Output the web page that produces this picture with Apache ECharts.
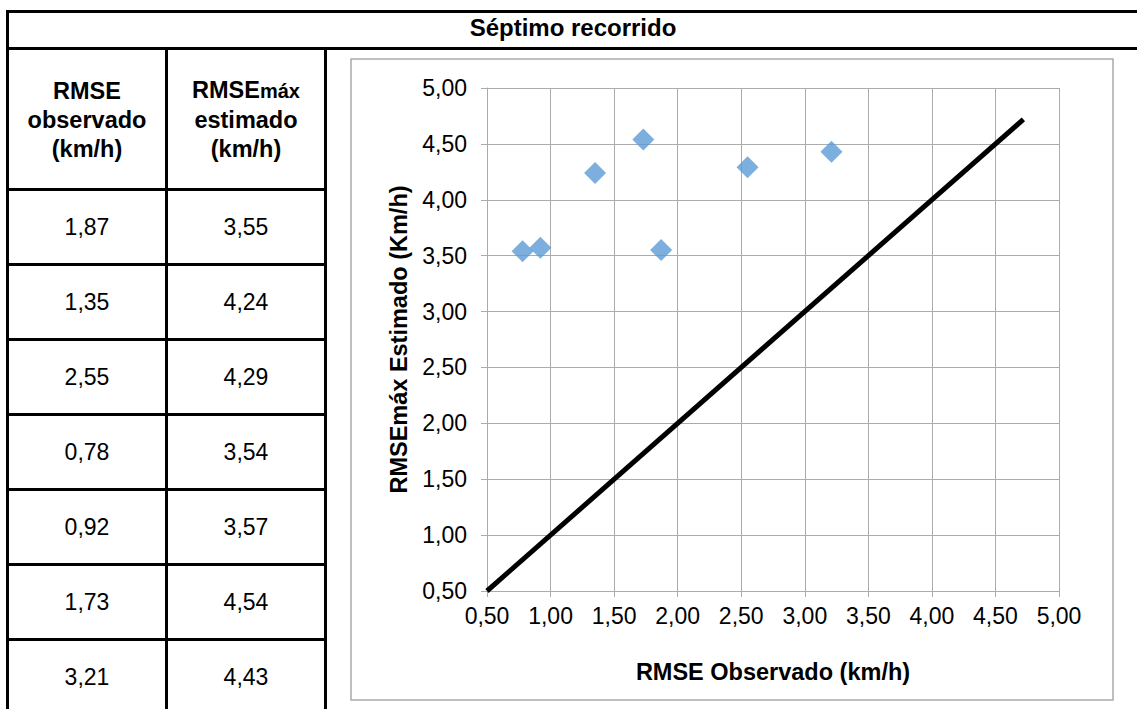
<!DOCTYPE html>
<html lang="es">
<head>
<meta charset="utf-8">
<title>Séptimo recorrido</title>
<script src="https://cdn.jsdelivr.net/npm/echarts@6/dist/echarts.min.js"></script>
<style>
  html, body { margin: 0; padding: 0; background: #fff; overflow: hidden; }
  #page { position: relative; width: 1137px; height: 709px; overflow: hidden; font-family: 'Liberation Sans', Arial, sans-serif; color: #000; }
  #chart { position: absolute; left: 0; top: 0; width: 1137px; height: 709px; }
  #tabla { position: absolute; left: 0; top: 0; width: 1137px; height: 709px; pointer-events: none; }
  .rule { position: absolute; background: #000; }
  .cell { position: absolute; display: flex; align-items: center; justify-content: center; text-align: center; white-space: nowrap; }
  .titulo { font-weight: bold; font-size: 24px; }
  .cab { font-weight: bold; font-size: 23.5px; line-height: 29px; }
  .cab small { font-size: 20px; font-weight: bold; }
  .dato { font-size: 23px; }
</style>
</head>
<body>
<div id="page">
  <div id="chart"></div>
  <div id="tabla"></div>
</div>
<script>
// Measured values for each run of the seventh route (km/h)
const titulo = 'Séptimo recorrido';
const rmseObservado = [1.87, 1.35, 2.55, 0.78, 0.92, 1.73, 3.21];
const rmseMaxEstimado = [3.55, 4.24, 4.29, 3.54, 3.57, 4.54, 4.43];

// Reference line y = x
const lineaIdentidad = [0.5, 4.72];

// Axis tick settings
const ejeMin = 0.5;
const ejeMax = 5;
const ejeIntervalo = 0.5;

const nombreEjeX = 'RMSE Observado (km/h)';
const nombreEjeY = 'RMSEmáx Estimado (Km/h)';

const fmt = v => v.toFixed(2).replace('.', ',');

// ---------- table on the left ----------
const tabla = document.getElementById('tabla');
function rule(x, y, w, h) {
  const d = document.createElement('div');
  d.className = 'rule';
  d.style.left = x + 'px'; d.style.top = y + 'px';
  d.style.width = w + 'px'; d.style.height = h + 'px';
  tabla.appendChild(d);
}
function cell(cls, x, y, w, h, html) {
  const d = document.createElement('div');
  d.className = 'cell ' + cls;
  d.style.left = x + 'px'; d.style.top = y + 'px';
  d.style.width = w + 'px'; d.style.height = h + 'px';
  d.innerHTML = '<div>' + html + '</div>';
  tabla.appendChild(d);
}

const col1 = [9, 165], col2 = [168, 324];
const filaAlto = 75, filaInicio = 191;

rule(6, 10, 1131, 3);           // top edge
rule(6, 47, 1131, 3);           // under the title
rule(6, 10, 3, 699);            // left edge
rule(165, 47, 3, 662);          // between value columns
rule(324, 47, 3, 662);          // before the chart
rule(6, 188, 321, 3);           // under the headers
rmseObservado.forEach((_, i) => rule(6, 263 + i * filaAlto, 321, 3));

cell('titulo', 9, 11, 1128, 33, titulo);
cell('cab', col1[0], 52, col1[1] - col1[0], 136, 'RMSE<br>observado<br>(km/h)');
cell('cab', col2[0], 52, col2[1] - col2[0], 136, 'RMSE<small>máx</small><br>estimado<br>(km/h)');
rmseObservado.forEach((v, i) => {
  const y = filaInicio + i * filaAlto;
  cell('dato', col1[0], y, col1[1] - col1[0], 72, fmt(v));
  cell('dato', col2[0], y, col2[1] - col2[0], 72, fmt(rmseMaxEstimado[i]));
});

// ---------- scatter chart ----------
const puntos = rmseObservado.map((x, i) => [x, rmseMaxEstimado[i]]);
const identidad = lineaIdentidad.map(v => [v, v]);

const gris = '#ababab';
const fuente = "'Liberation Sans', Arial, sans-serif";

const ejeBase = {
  type: 'value',
  min: ejeMin,
  max: ejeMax,
  interval: ejeIntervalo,
  nameLocation: 'middle',
  nameTextStyle: { fontFamily: fuente, fontWeight: 'bold', fontSize: 23.5, color: '#000' },
  axisLine: { show: true, lineStyle: { color: gris, width: 1 } },
  axisTick: { show: true, inside: false, length: 6, lineStyle: { color: gris, width: 1 } },
  splitLine: { show: true, lineStyle: { color: gris, width: 1 } },
  axisLabel: {
    fontFamily: fuente, fontSize: 23, color: '#000',
    showMinLabel: true, showMaxLabel: true,
    formatter: v => fmt(v)
  }
};

const chart = echarts.init(document.getElementById('chart'), null, { renderer: 'svg', width: 1137, height: 709 });
chart.setOption({
  animation: false,
  backgroundColor: 'transparent',
  grid: { left: 487, right: 78, top: 88, bottom: 118, containLabel: false, outerBoundsMode: 'none' },
  xAxis: Object.assign({}, ejeBase, {
    name: nombreEjeX,
    nameGap: 69,
    axisLabel: Object.assign({}, ejeBase.axisLabel, { margin: 13 })
  }),
  yAxis: Object.assign({}, ejeBase, {
    name: nombreEjeY,
    nameGap: 65,
    axisLabel: Object.assign({}, ejeBase.axisLabel, { margin: 20 })
  }),
  graphic: [{
    type: 'rect',
    shape: { x: 351, y: 59, width: 762, height: 641 },
    style: { fill: 'none', stroke: gris, lineWidth: 1.5 },
    silent: true,
    z: -1
  }],
  series: [
    {
      type: 'line',
      data: identidad,
      showSymbol: false,
      clip: false,
      lineStyle: { color: '#000', width: 5, cap: 'butt' },
      z: 2
    },
    {
      type: 'scatter',
      data: puntos,
      symbol: 'diamond',
      symbolSize: 22,
      itemStyle: { color: '#5b9bd5' },
      z: 3
    }
  ]
});
</script>
</body>
</html>
